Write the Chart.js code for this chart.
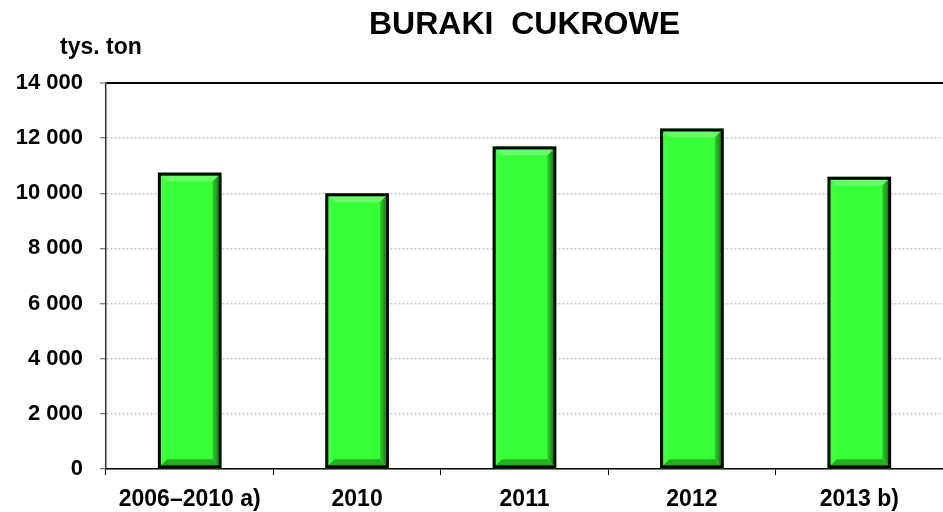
<!DOCTYPE html>
<html>
<head>
<meta charset="utf-8">
<script src="https://cdn.jsdelivr.net/npm/chart.js@4.4.1/dist/chart.umd.min.js"></script>
<style>
  html, body { margin: 0; padding: 0; background: #fff; }
  #wrap { width: 943px; height: 512px; position: relative; }
</style>
</head>
<body>
<div id="wrap"><canvas id="chart"></canvas></div>
<script>
// ─── Dane ─────────────────────────────────────────────
const categories = ['2006–2010 a)', '2010', '2011', '2012', '2013 b)'];
const production = [10750, 10000, 11700, 12350, 10600];
const yTicks = [0, 2000, 4000, 6000, 8000, 10000, 12000, 14000];
const title = 'BURAKI  CUKROWE';
const unitLabel = 'tys. ton';

const FONT = '"Liberation Sans", Arial, sans-serif';
const fmt = v => String(v).replace(/\B(?=(\d{3})+(?!\d))/g, ' ');

// tytul + jednostka
const textPlugin = {
    id: 'texts',
    afterDraw(chart) {
        const { ctx, chartArea } = chart;
        ctx.save();
        ctx.fillStyle = '#000';
        ctx.textBaseline = 'middle';
        ctx.textAlign = 'center';
        ctx.font = 'bold 32px ' + FONT;
        ctx.fillText(title, (chartArea.left + chartArea.right) / 2, 25);
        ctx.textAlign = 'left';
        ctx.font = 'bold 23px ' + FONT;
        ctx.fillText(unitLabel, 60, 48);
        ctx.restore();
    }
};

// efekt "wypuklych" slupkow
const bevelPlugin = {
    id: 'bevel',
    afterDatasetsDraw(chart) {
        const { ctx } = chart;
        const meta = chart.getDatasetMeta(0);
        meta.data.forEach(bar => {
            const b = 3;
            const half = bar.width / 2;
            const l = bar.x - half + b, r = bar.x + half - b;
            const t = bar.y + b, btm = bar.base - b;
            const d = 6;
            ctx.save();
            // gora jasniejsza
            ctx.fillStyle = '#66ff66';
            ctx.beginPath();
            ctx.moveTo(l, t); ctx.lineTo(r, t); ctx.lineTo(r - d, t + d); ctx.lineTo(l + d, t + d);
            ctx.closePath(); ctx.fill();
            // prawa strona ciemniejsza
            const g = ctx.createLinearGradient(r - d, 0, r, 0);
            g.addColorStop(0, '#2cd42c');
            g.addColorStop(1, '#128512');
            ctx.fillStyle = g;
            ctx.beginPath();
            ctx.moveTo(r, t); ctx.lineTo(r, btm); ctx.lineTo(r - d, btm - d); ctx.lineTo(r - d, t + d);
            ctx.closePath(); ctx.fill();
            // dol ciemniejszy
            ctx.fillStyle = '#22b022';
            ctx.beginPath();
            ctx.moveTo(l, btm); ctx.lineTo(r, btm); ctx.lineTo(r - d, btm - d); ctx.lineTo(l + d, btm - d);
            ctx.closePath(); ctx.fill();
            // lewa lekko jasniejsza
            ctx.fillStyle = '#40ff40';
            ctx.beginPath();
            ctx.moveTo(l, t); ctx.lineTo(l + d, t + d); ctx.lineTo(l + d, btm - d); ctx.lineTo(l, btm);
            ctx.closePath(); ctx.fill();
            // obrys
            ctx.strokeStyle = '#000';
            ctx.lineWidth = 3;
            ctx.strokeRect(bar.x - half + 1.5, bar.y + 1.5, bar.width - 3, bar.base - bar.y - 3);
            ctx.restore();
        });
    }
};

new Chart(document.getElementById('chart'), {
    type: 'bar',
    data: {
        labels: categories,
        datasets: [{
            data: production,
            backgroundColor: '#37ff37',
            borderColor: '#000',
            borderWidth: 0,
            categoryPercentage: 1,
            barPercentage: 0.38
        }]
    },
    options: {
        responsive: true,
        maintainAspectRatio: false,
        animation: false,
        layout: { padding: { top: 83, right: 0, left: 0, bottom: 0 } },
        plugins: {
            legend: { display: false },
            tooltip: { enabled: false }
        },
        scales: {
            x: {
                grid: {
                    offset: true,
                    drawOnChartArea: false,
                    tickLength: 6,
                    tickColor: '#000',
                    tickWidth: 1
                },
                border: { color: '#000', width: 1.5 },
                ticks: {
                    color: '#000',
                    padding: 11,
                    font: { family: FONT, size: 23, weight: 'bold' }
                },
                afterFit(scale) { scale.height = 43; }
            },
            y: {
                min: 0,
                max: 14000,
                afterBuildTicks(scale) { scale.ticks = yTicks.map(v => ({ value: v })); },
                grid: {
                    color: c => c.tick && c.tick.value === 14000 ? '#000' : '#c8c8c8',
                    lineWidth: c => c.tick && c.tick.value === 14000 ? 2 : 1.5,
                    tickLength: 6,
                    tickColor: '#555',
                    tickWidth: 1
                },
                border: {
                    color: '#333',
                    width: 1.5,
                    dash: c => c.tick && c.tick.value === 14000 ? [] : [2, 2]
                },
                ticks: {
                    color: '#000',
                    padding: 17,
                    font: { family: FONT, size: 22, weight: 'bold' },
                    callback: v => fmt(v)
                },
                afterFit(scale) { scale.width = 106; }
            }
        }
    },
    plugins: [textPlugin, bevelPlugin]
});
</script>
</body>
</html>
